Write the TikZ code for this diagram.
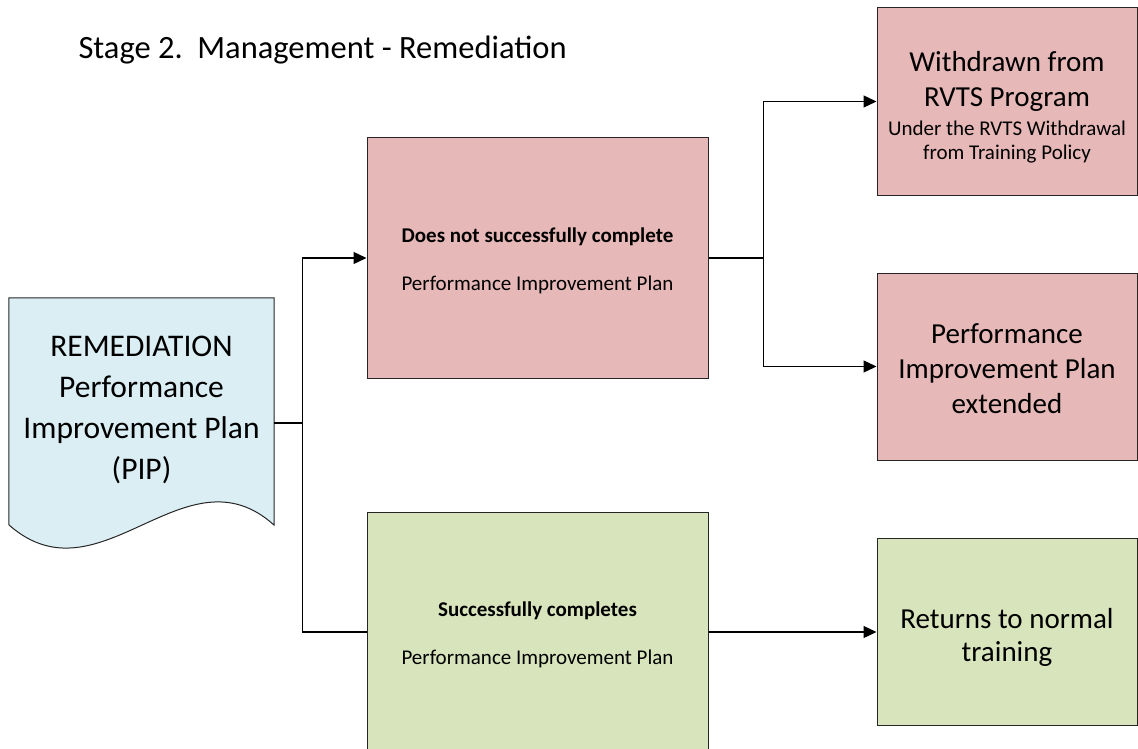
\documentclass[tikz,border=0pt]{standalone}
\usepackage{fontspec}
\setmainfont{Carlito}
\usetikzlibrary{arrows.meta, positioning, calc}
\definecolor{failred}{HTML}{E6B8B7}
\definecolor{passgreen}{HTML}{D8E4BC}
\definecolor{pipblue}{HTML}{DAEEF3}

\begin{document}
\begin{tikzpicture}[x=1pt, y=-1pt,
    stagebox/.style={draw=black!85, line width=1pt, minimum width=341pt, minimum height=240pt,
        inner sep=0pt, align=center, font=\fontsize{21}{24}\selectfont},
    outcome/.style={draw=black!85, line width=1pt, minimum width=260pt, minimum height=187pt,
        inner sep=0pt, align=center, font=\fontsize{29}{35}\selectfont},
    link/.style={line width=1.3pt},
    arr/.style={link, -{Triangle[length=13pt, width=12pt]}}]
    \useasboundingbox (0,0) rectangle (1138,749);

    \node[anchor=base west, font=\fontsize{32.5}{39}\selectfont] (title) at (75,59)
        {Stage 2.\ \ Management - Remediation};

    % document shape for the PIP
    \node[minimum width=265pt, minimum height=250pt, inner sep=0pt] (pip) at (141.5,423) {};
    \draw[draw=black!85, line width=1pt, fill=pipblue]
        (pip.north west) -- (pip.north east) -- (274,525)
        .. controls (185,445) and (100,605) .. (9,525) -- cycle;
    \node[align=center, font=\fontsize{31.5}{41}\selectfont] (piptext) at (141.5,410)
        {REMEDIATION\\Performance\\Improvement Plan\\(PIP)};

    \node[stagebox, fill=failred] (nofin) at (537.5,258)
        {\rule{0pt}{21pt}\textbf{Does not successfully complete}\\[24pt]Performance Improvement Plan};
    \node[stagebox, fill=passgreen] (pass) at (537.5,632)
        {\rule{0pt}{21pt}\textbf{Successfully completes}\\[24pt]Performance Improvement Plan};

    \node[outcome, fill=failred, font=\fontsize{21}{24}\selectfont] (wd) at (1007,101.5)
        {{\fontsize{29}{35}\selectfont\rule{0pt}{32pt}Withdrawn from}\\[11pt]{\fontsize{29}{35}\selectfont RVTS Program}\\[5pt]Under the RVTS Withdrawal\\from Training Policy};
    \node[outcome, fill=failred] (ext) at (1007,366.5) {\rule{0pt}{25pt}Performance\\Improvement Plan\\extended};
    \node[outcome, fill=passgreen] (ret) at (1007,632) {\rule{0pt}{30pt}Returns to normal\\[-2pt]training};

    % connectors
    \coordinate (fork) at ($(pip.east)+(28,0)$);
    \coordinate (fork2) at ($(nofin.east)+(55,0)$);
    \draw[link] (pip.east) -- (fork);
    \draw[arr] (fork) |- (nofin.west);
    \draw[link] (fork) |- (pass.west);
    \draw[link] (nofin.east) -- (fork2);
    \draw[arr] (fork2) |- (wd.west);
    \draw[arr] (fork2) |- (ext.west);
    \draw[arr] (pass.east) -- (ret.west);
\end{tikzpicture}
\end{document}
